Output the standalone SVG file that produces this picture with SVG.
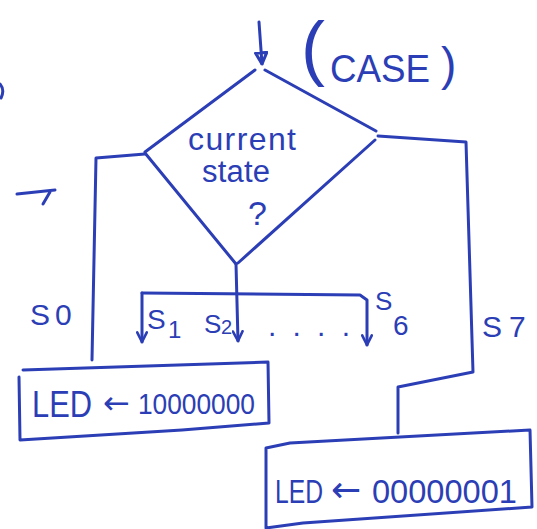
<svg xmlns="http://www.w3.org/2000/svg" width="537" height="529" viewBox="0 0 537 529">
<style>
.ink{fill:none;stroke:#2b3eb5;stroke-width:3;stroke-linecap:round;stroke-linejoin:round}
.t{fill:#2b3eb5;font-family:"Liberation Sans","DejaVu Sans",sans-serif}
.ar{fill:#2b3eb5;font-family:"DejaVu Sans",sans-serif}
</style>
<defs>
<marker id="v" viewBox="0 0 10 10" refX="9" refY="5" markerWidth="12" markerHeight="12" markerUnits="userSpaceOnUse" orient="auto">
<path d="M1 1 L9 5 L1 9" fill="none" stroke="#2b3eb5" stroke-width="2.2" stroke-linecap="round" stroke-linejoin="round"/>
</marker>
<marker id="tri" viewBox="0 0 10 10" refX="9" refY="5" markerWidth="14" markerHeight="14" markerUnits="userSpaceOnUse" orient="auto">
<path d="M1 1 L9 5 L1 9 Z" fill="none" stroke="#2b3eb5" stroke-width="2.2" stroke-linejoin="round"/>
</marker>
</defs>
<rect width="537" height="529" fill="#ffffff"/>

<g id="case-label">
<text class="t" x="301" y="72" font-size="72">(</text>
<text class="t" x="330" y="82" font-size="38" textLength="100" lengthAdjust="spacingAndGlyphs">CASE</text>
<text class="t" x="441" y="80" font-size="46">)</text>
</g>

<g id="decision">
<path class="ink" d="M255 70 L145 152 M145 153 L236 264 M238 263 L375 140 M376 131 L265 70"/>
<text class="t" x="188" y="150" font-size="32" textLength="108">current</text>
<text class="t" x="202" y="182" font-size="31" textLength="68">state</text>
<text class="t" x="248" y="225" font-size="34">?</text>
</g>

<g id="box-s0">
<path class="ink" d="M23 370 L268 362 L269 423 L182 430 L20 440 L19 377"/>
<text class="t" x="32" y="417" font-size="36" textLength="60" lengthAdjust="spacingAndGlyphs">LED</text>
<text class="ar" x="103" y="414" font-size="32">←</text>
<text class="t" x="138" y="414" font-size="30" textLength="117" lengthAdjust="spacingAndGlyphs">10000000</text>
</g>

<g id="box-s7">
<path class="ink" d="M266 528 L266 448 L290 443 L530 430 L532 507 L303 523 L266 528"/>
<text class="t" transform="translate(275 503) scale(1 1.2)" x="0" y="0" font-size="28" textLength="48" lengthAdjust="spacingAndGlyphs">LED</text>
<text class="ar" x="331" y="502" font-size="36">←</text>
<text class="t" x="372" y="503" font-size="33" textLength="145" lengthAdjust="spacingAndGlyphs">00000001</text>
</g>

<g id="connectors">
<path class="ink" d="M259 22 L262 64" marker-end="url(#tri)"/>
<path class="ink" d="M145 154 L96 158 L92 360"/>
<path class="ink" d="M378 136 L466 142 L473 372 L398 387 L398 433"/>
<path class="ink" d="M236 264 L238 341" marker-end="url(#v)"/>
<path class="ink" d="M142 293 L360 295 L367 300 L367 345" marker-end="url(#v)"/>
<path class="ink" d="M142 293 L142 342" marker-end="url(#v)"/>
</g>

<g id="labels">
<text class="t" x="30" y="325" font-size="30" letter-spacing="5">S0</text>
<text class="t" x="147" y="329" font-size="28">S</text>
<text class="t" x="168" y="338" font-size="24">1</text>
<text class="t" x="204" y="333" font-size="26">S</text>
<text class="t" x="221" y="334" font-size="20">2</text>
<text class="t" x="268" y="336" font-size="30" textLength="82">....</text>
<text class="t" x="375" y="310" font-size="26">S</text>
<text class="t" x="393" y="335" font-size="28">6</text>
<text class="t" x="482" y="337" font-size="30" letter-spacing="7">S7</text>
</g>

<g id="marks">
<path class="ink" d="M17 194 L55 190 M50 192 L43 204"/>
<path class="ink" d="M0 84 Q5 90 1 98"/>
</g>
</svg>
